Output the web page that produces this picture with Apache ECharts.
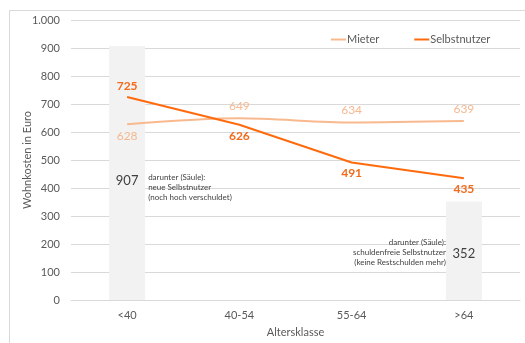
<!DOCTYPE html>
<html>
<head>
<meta charset="utf-8">
<script src="https://cdn.jsdelivr.net/npm/echarts@6/dist/echarts.min.js"></script>
<style>
  html, body { margin: 0; padding: 0; background: #fff; }
  #chart { width: 525px; height: 343px; }
</style>
</head>
<body>
<div id="chart"></div>
<script>
// Age groups and monthly housing costs (Euro)
var categories = ['<40', '40-54', '55-64', '>64'];
var mieter = [628, 649, 634, 639];
var selbstnutzer = [725, 626, 491, 435];
// Sub-group columns: new owner-occupiers (<40) and debt-free owners (>64)
var saeule = [907, null, null, 352];
var yTicks = [0, 100, 200, 300, 400, 500, 600, 700, 800, 900, 1000];

var mieterLabelPos = ['bottom', 'top', 'top', 'top'];
var selbstLabelPos = ['top', 'bottom', 'bottom', 'bottom'];
var saeuleLabelOffset = [[0, 8], null, null, [0, 3]];

var FONT = 'Lato';
var chart = echarts.init(document.getElementById('chart'), null, { renderer: 'canvas' });

function fmtThousands(v) {
  return String(v).replace(/\B(?=(\d{3})+(?!\d))/g, '.');
}

var option = {
  animation: false,
  textStyle: { fontFamily: FONT },
  grid: { left: 71, right: 5, top: 20, bottom: 42 },
  legend: {
    left: 326, top: 29,
    itemWidth: 15, itemHeight: 2, itemGap: 35,
    icon: 'rect',
    textStyle: { color: '#595959', fontSize: 11, fontFamily: FONT, padding: [0, 0, 0, -4] },
    data: ['Mieter', 'Selbstnutzer']
  },
  xAxis: {
    type: 'category',
    data: categories,
    name: 'Altersklasse',
    nameLocation: 'middle',
    nameGap: 27,
    nameMoveOverlap: false,
    nameTextStyle: { color: '#595959', fontSize: 11, fontFamily: FONT },
    axisLine: { lineStyle: { color: '#d9d9d9', width: 1 } },
    axisTick: { show: false },
    axisLabel: { color: '#595959', fontSize: 11, margin: 10, fontFamily: FONT }
  },
  yAxis: {
    type: 'value',
    min: yTicks[0], max: yTicks[yTicks.length - 1], interval: 100,
    name: 'Wohnkosten in Euro',
    nameLocation: 'middle',
    nameGap: 38,
    nameMoveOverlap: false,
    nameTextStyle: { color: '#595959', fontSize: 11, fontFamily: FONT },
    axisLine: { show: false },
    axisTick: { show: false },
    axisLabel: { color: '#595959', fontSize: 11, margin: 11, fontFamily: FONT, formatter: fmtThousands },
    splitLine: { lineStyle: { color: '#d9d9d9', width: 1 } }
  },
  series: [
    {
      name: 'Säule',
      type: 'bar',
      data: saeule.map(function (v, i) {
        return v == null ? null : { value: v, label: { offset: saeuleLabelOffset[i] } };
      }),
      barWidth: 36,
      itemStyle: { color: '#f2f2f2' },
      label: { show: true, position: 'inside', color: '#404040', fontSize: 13, fontFamily: FONT },
      z: 1
    },
    {
      name: 'Mieter',
      type: 'line',
      data: mieter.map(function (v, i) {
        return { value: v, label: { position: mieterLabelPos[i] } };
      }),
      smooth: 0.3,
      showSymbol: true,
      symbol: 'circle',
      symbolSize: 0,
      lineStyle: { color: '#f8b98e', width: 2 },
      itemStyle: { color: '#f8b98e' },
      label: { show: true, color: '#f5b88f', fontSize: 12, fontFamily: FONT, distance: 6 },
      z: 3
    },
    {
      name: 'Selbstnutzer',
      type: 'line',
      data: selbstnutzer.map(function (v, i) {
        return { value: v, label: { position: selbstLabelPos[i] } };
      }),
      showSymbol: true,
      symbol: 'circle',
      symbolSize: 0,
      lineStyle: { color: '#ff6a0d', width: 2 },
      itemStyle: { color: '#ff6a0d' },
      label: { show: true, color: '#f26a1b', fontSize: 12, fontWeight: 'bold', fontFamily: FONT, distance: 5 },
      z: 4
    }
  ]
};

chart.setOption(option);

// Notes next to the two columns, anchored to the category positions
var p0 = chart.convertToPixel({ xAxisIndex: 0, yAxisIndex: 0 }, [0, 455]);
var p3 = chart.convertToPixel({ xAxisIndex: 0, yAxisIndex: 0 }, [3, 224]);
var noteStyle = { fill: '#404040', fontSize: 8, fontFamily: FONT, lineHeight: 10 };

chart.setOption({
  graphic: [
    {
      type: 'rect', silent: true, z: -10,
      shape: { x: 9.5, y: 10.5, width: 600, height: 400 },
      style: { fill: null, stroke: '#d9d9d9', lineWidth: 1 }
    },
    {
      type: 'text', silent: true, z: 10,
      x: p0[0] + 21, y: p0[1],
      style: Object.assign({
        text: 'darunter (Säule):\nneue Selbstnutzer\n(noch hoch verschuldet)',
        align: 'left', verticalAlign: 'top'
      }, noteStyle)
    },
    {
      type: 'text', silent: true, z: 10,
      x: p3[0] - 18, y: p3[1],
      style: Object.assign({
        text: 'darunter (Säule):\nschuldenfreie Selbstnutzer\n(keine Restschulden mehr)',
        align: 'right', verticalAlign: 'top'
      }, noteStyle)
    }
  ]
});
</script>
</body>
</html>
